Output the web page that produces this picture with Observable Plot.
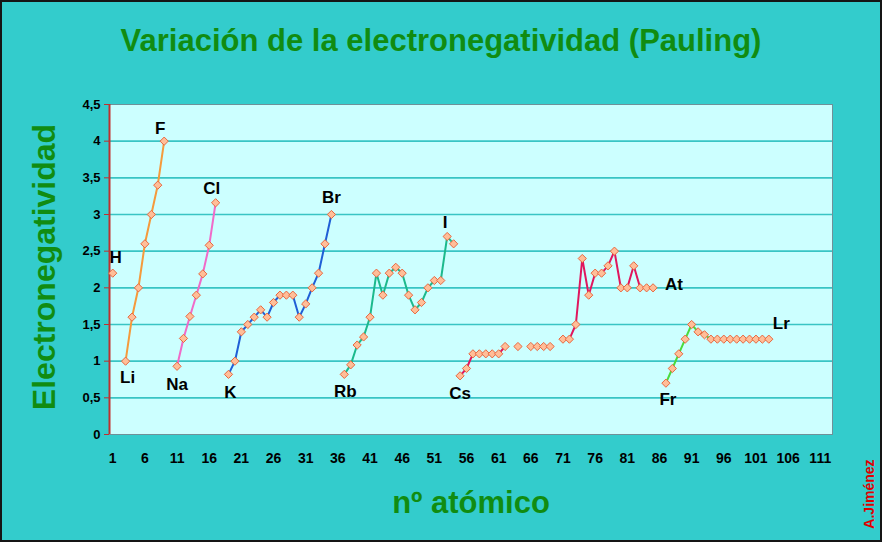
<!DOCTYPE html>
<html><head><meta charset="utf-8">
<script src="https://cdn.jsdelivr.net/npm/d3@7"></script>
<script src="https://cdn.jsdelivr.net/npm/@observablehq/plot@0.6"></script>
<style>
html,body{margin:0;padding:0;background:#33CCCC;}
#wrap{position:relative;width:882px;height:542px;background:#33CCCC;overflow:hidden;font-family:"Liberation Sans",Arial,sans-serif;}
#title{position:absolute;left:0;width:882px;top:25px;text-align:center;font-size:31px;line-height:31px;font-weight:bold;color:#118C11;white-space:nowrap;}
.rot{position:absolute;white-space:nowrap;font-weight:bold;transform:translate(-50%,-50%) rotate(-90deg);}
#ytitle{left:44px;top:267px;font-size:32px;line-height:32px;color:#118C11;}
#xtitle{position:absolute;left:471px;top:502px;transform:translate(-50%,-50%);font-size:31px;line-height:31px;font-weight:bold;color:#118C11;white-space:nowrap;}
#author{left:869px;top:494px;font-size:14px;line-height:14px;color:#E00000;}
#chart{position:absolute;left:0;top:70px;}
#border{position:absolute;left:0;top:0;width:882px;height:542px;box-sizing:border-box;border:2px solid #151515;pointer-events:none;}
</style></head>
<body>
<div id="wrap">
<div id="title">Variación de la electronegatividad (Pauling)</div>
<div id="chart"></div>
<div id="ytitle" class="rot">Electronegatividad</div>
<div id="xtitle">nº atómico</div>
<div id="author" class="rot">A.Jiménez</div>
<div id="border"></div>
</div>
<script>
// ---- data ----
const xTicks = [1, 6, 11, 16, 21, 26, 31, 36, 41, 46, 51, 56, 61, 66, 71, 76, 81, 86, 91, 96, 101, 106, 111];
const yTicks = [0, 0.5, 1, 1.5, 2, 2.5, 3, 3.5, 4, 4.5];

const periodStarts = [1, 3, 11, 19, 37, 55, 87];
const period1 = [2.2];
const period2 = [1.0, 1.6, 2.0, 2.6, 3.0, 3.4, 4.0];
const period3 = [0.93, 1.31, 1.61, 1.9, 2.19, 2.58, 3.16];
const period4 = [0.82, 1.0, 1.4, 1.5, 1.6, 1.7, 1.6, 1.8, 1.9, 1.9, 1.9, 1.6, 1.78, 2.0, 2.2, 2.6, 3.0];
const period5 = [0.82, 0.95, 1.22, 1.33, 1.6, 2.2, 1.9, 2.2, 2.28, 2.2, 1.9, 1.7, 1.8, 2.0, 2.1, 2.1, 2.7, 2.6];
const period6 = [0.8, 0.9, 1.1, 1.1, 1.1, 1.1, 1.1, 1.2, null, 1.2, null, 1.2, 1.2, 1.2, 1.2, null,
                 1.3, 1.3, 1.5, 2.4, 1.9, 2.2, 2.2, 2.3, 2.5, 2.0, 2.0, 2.3, 2.0, 2.0, 2.0];
const period7 = [0.7, 0.9, 1.1, 1.3, 1.5, 1.4, 1.36, 1.3, 1.3, 1.3, 1.3, 1.3, 1.3, 1.3, 1.3, 1.3, 1.3];

const labelNames = ["H", "Li", "F", "Na", "Cl", "K", "Br", "Rb", "I", "Cs", "At", "Fr", "Lr"];
const labelNumbers = [1, 3, 9, 11, 17, 19, 35, 37, 53, 55, 85, 87, 103];

// ---- styles ----
const periodColors = ["#000000", "#F59A3C", "#F06AC8", "#1F5FD6", "#1CB98C", "#E0165E", "#4CDA3C"];
const labelOffsets = {
  H: [3, -16], Li: [2, 16], F: [-4, -13], Na: [0, 18], Cl: [-4, -14.5], K: [2, 18],
  Br: [0, -16.5], Rb: [1, 17], I: [-2, -14], Cs: [0, 18], At: [21, -3], Fr: [2, 16], Lr: [12.5, -15.7]
};

const periods = [period1, period2, period3, period4, period5, period6, period7];
const series = periods.map((vals, p) => vals.map((v, i) => ({n: periodStarts[p] + i, v, p})));
const rows = series.flat();
const valueOf = n => rows.find(r => r.n === n).v;
const labels = labelNames.map((s, i) => ({s, n: labelNumbers[i], v: valueOf(labelNumbers[i])}));

const fmt = d => String(d).replace(".", ",");

const chart = Plot.plot({
  width: 882, height: 472,
  marginLeft: 109, marginRight: 50, marginTop: 34, marginBottom: 108,
  x: {type: "linear", domain: [0.5, 112.9]},
  y: {domain: [0, 4.5]},
  style: {background: "transparent", fontFamily: "Liberation Sans, Arial, sans-serif", fontWeight: "bold", color: "black"},
  marks: [
    Plot.frame({fill: "#CCFFFF", stroke: "none"}),
    Plot.ruleY(yTicks.filter(d => d > 0 && d < 4.5), {stroke: "#39C4C4", strokeWidth: 1.6}),
    Plot.frame({stroke: "#6F9098", fill: "none"}),
    Plot.ruleX([0.5], {stroke: "#C0302E", strokeWidth: 2}),
    Plot.axisY({ticks: yTicks, tickSize: 5, color: "#C0302E", tickFormat: () => "", label: null}),
    Plot.axisY({ticks: yTicks, tickSize: 0, tickPadding: 9, fontSize: 13, fontWeight: "bold", tickFormat: fmt, label: null}),
    Plot.axisX({ticks: xTicks, tickSize: 0, tickPadding: 19, fontSize: 14, fontWeight: "bold", tickFormat: d => String(d), label: null}),
    ...series.slice(1).map((s, i) =>
      Plot.line(s, {x: "n", y: "v", stroke: periodColors[i + 1], strokeWidth: 2})),
    Plot.dot(rows.filter(r => r.v != null), {x: "n", y: "v", symbol: "diamond2", r: 3.7,
      fill: "#FFBE98", stroke: "#E8673F", strokeWidth: 1}),
    ...labels.map(d => Plot.text([d], {x: "n", y: "v", text: "s",
      dx: labelOffsets[d.s][0], dy: labelOffsets[d.s][1], fontSize: 17, fontWeight: "bold", fill: "black"}))
  ]
});
document.getElementById("chart").appendChild(chart);
</script>
</body></html>
